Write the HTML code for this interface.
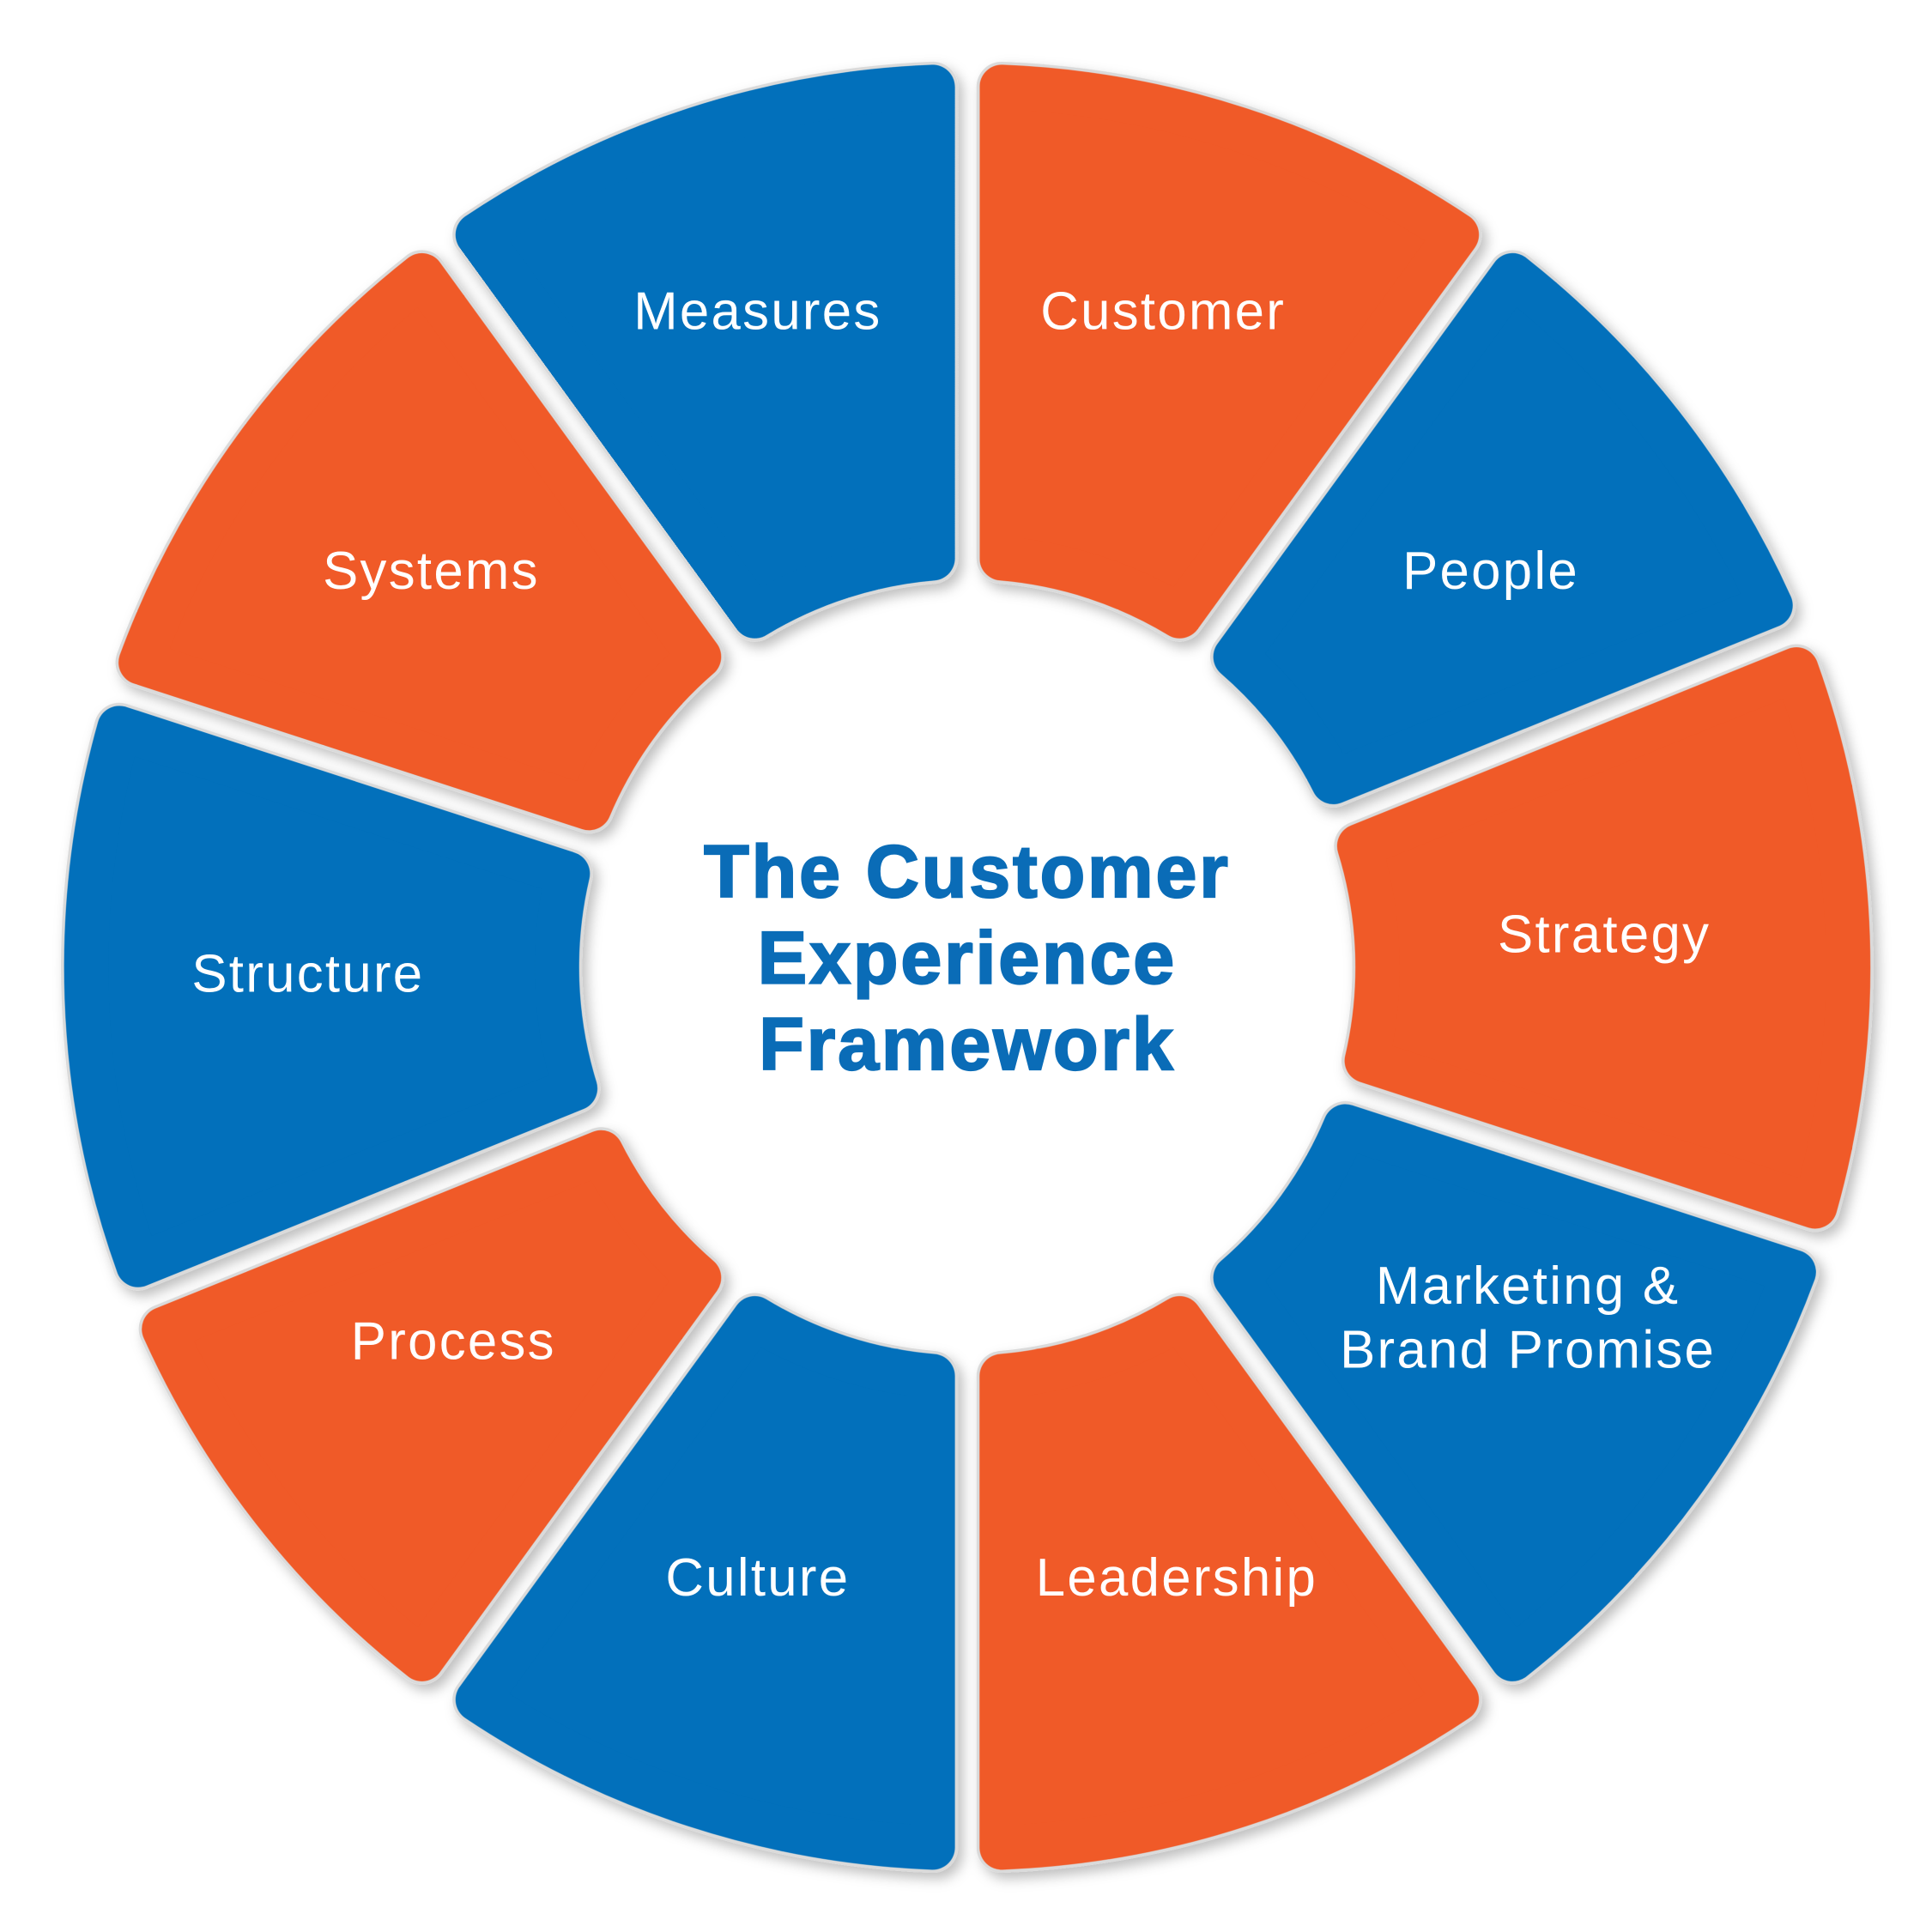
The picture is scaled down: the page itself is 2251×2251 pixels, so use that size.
<!DOCTYPE html>
<html><head><meta charset="utf-8">
<style>html,body{margin:0;padding:0;background:#fff;}svg{display:block;}</style>
</head><body>
<svg width="2251" height="2251" viewBox="0 0 1568 1568" xmlns="http://www.w3.org/2000/svg">
<defs>
<filter id="sh" x="-20%" y="-20%" width="140%" height="140%">
<feDropShadow dx="4" dy="5" stdDeviation="5" flood-color="#000" flood-opacity="0.25"/>
</filter>
<path id="s36" d="M813,70.55 A715,715 0 0 1 1182.29,190.54 L957.39,500.09 A333,333 0 0 0 813,453.18 Z" stroke-linejoin="round"/>
<path id="s32" d="M813,70.55 A715,715 0 0 1 1139.86,164.27 L937.09,488.76 A333,333 0 0 0 813,453.18 Z" stroke-linejoin="round"/>
<path id="s40" d="M813,70.55 A715,715 0 0 1 1222.79,219.69 L976.84,512.81 A333,333 0 0 0 813,453.18 Z" stroke-linejoin="round"/>
</defs>
<g filter="url(#sh)" fill="#dadada" stroke="#dadada" stroke-width="41">
<use href="#s36" transform="rotate(0 785 785)"/>
<use href="#s32" transform="rotate(36 785 785)"/>
<use href="#s40" transform="rotate(68 785 785)"/>
<use href="#s36" transform="rotate(108 785 785)"/>
<use href="#s36" transform="rotate(144 785 785)"/>
<use href="#s36" transform="rotate(180 785 785)"/>
<use href="#s32" transform="rotate(216 785 785)"/>
<use href="#s40" transform="rotate(248 785 785)"/>
<use href="#s36" transform="rotate(288 785 785)"/>
<use href="#s36" transform="rotate(324 785 785)"/>
</g>
<g stroke-width="36">
<use href="#s36" fill="#F05A28" stroke="#F05A28" transform="rotate(0 785 785)"/>
<use href="#s32" fill="#0270BB" stroke="#0270BB" transform="rotate(36 785 785)"/>
<use href="#s40" fill="#F05A28" stroke="#F05A28" transform="rotate(68 785 785)"/>
<use href="#s36" fill="#0270BB" stroke="#0270BB" transform="rotate(108 785 785)"/>
<use href="#s36" fill="#F05A28" stroke="#F05A28" transform="rotate(144 785 785)"/>
<use href="#s36" fill="#0270BB" stroke="#0270BB" transform="rotate(180 785 785)"/>
<use href="#s32" fill="#F05A28" stroke="#F05A28" transform="rotate(216 785 785)"/>
<use href="#s40" fill="#0270BB" stroke="#0270BB" transform="rotate(248 785 785)"/>
<use href="#s36" fill="#F05A28" stroke="#F05A28" transform="rotate(288 785 785)"/>
<use href="#s36" fill="#0270BB" stroke="#0270BB" transform="rotate(324 785 785)"/>
</g>
<g font-family="'Liberation Sans', sans-serif" fill="#fff" font-size="43" letter-spacing="1.6" text-anchor="middle">
<text x="615" y="267">Measures</text>
<text x="944" y="267">Customer</text>
<text x="1210" y="478">People</text>
<text x="1302" y="773">Strategy</text>
<text x="1240" y="1058">Marketing &amp;</text>
<text x="1240" y="1110">Brand Promise</text>
<text x="955" y="1295">Leadership</text>
<text x="615" y="1295">Culture</text>
<text x="368" y="1103">Process</text>
<text x="250" y="805">Structure</text>
<text x="350" y="478">Systems</text>
</g>
<g font-family="'Liberation Sans', sans-serif" fill="#0A6CB7" font-size="60" font-weight="bold" letter-spacing="2" text-anchor="middle" stroke="#0A6CB7" stroke-width="1.5">
<text x="785" y="728">The Customer</text>
<text x="785" y="798">Experience</text>
<text x="785" y="868">Framework</text>
</g>
</svg>
</body></html>
